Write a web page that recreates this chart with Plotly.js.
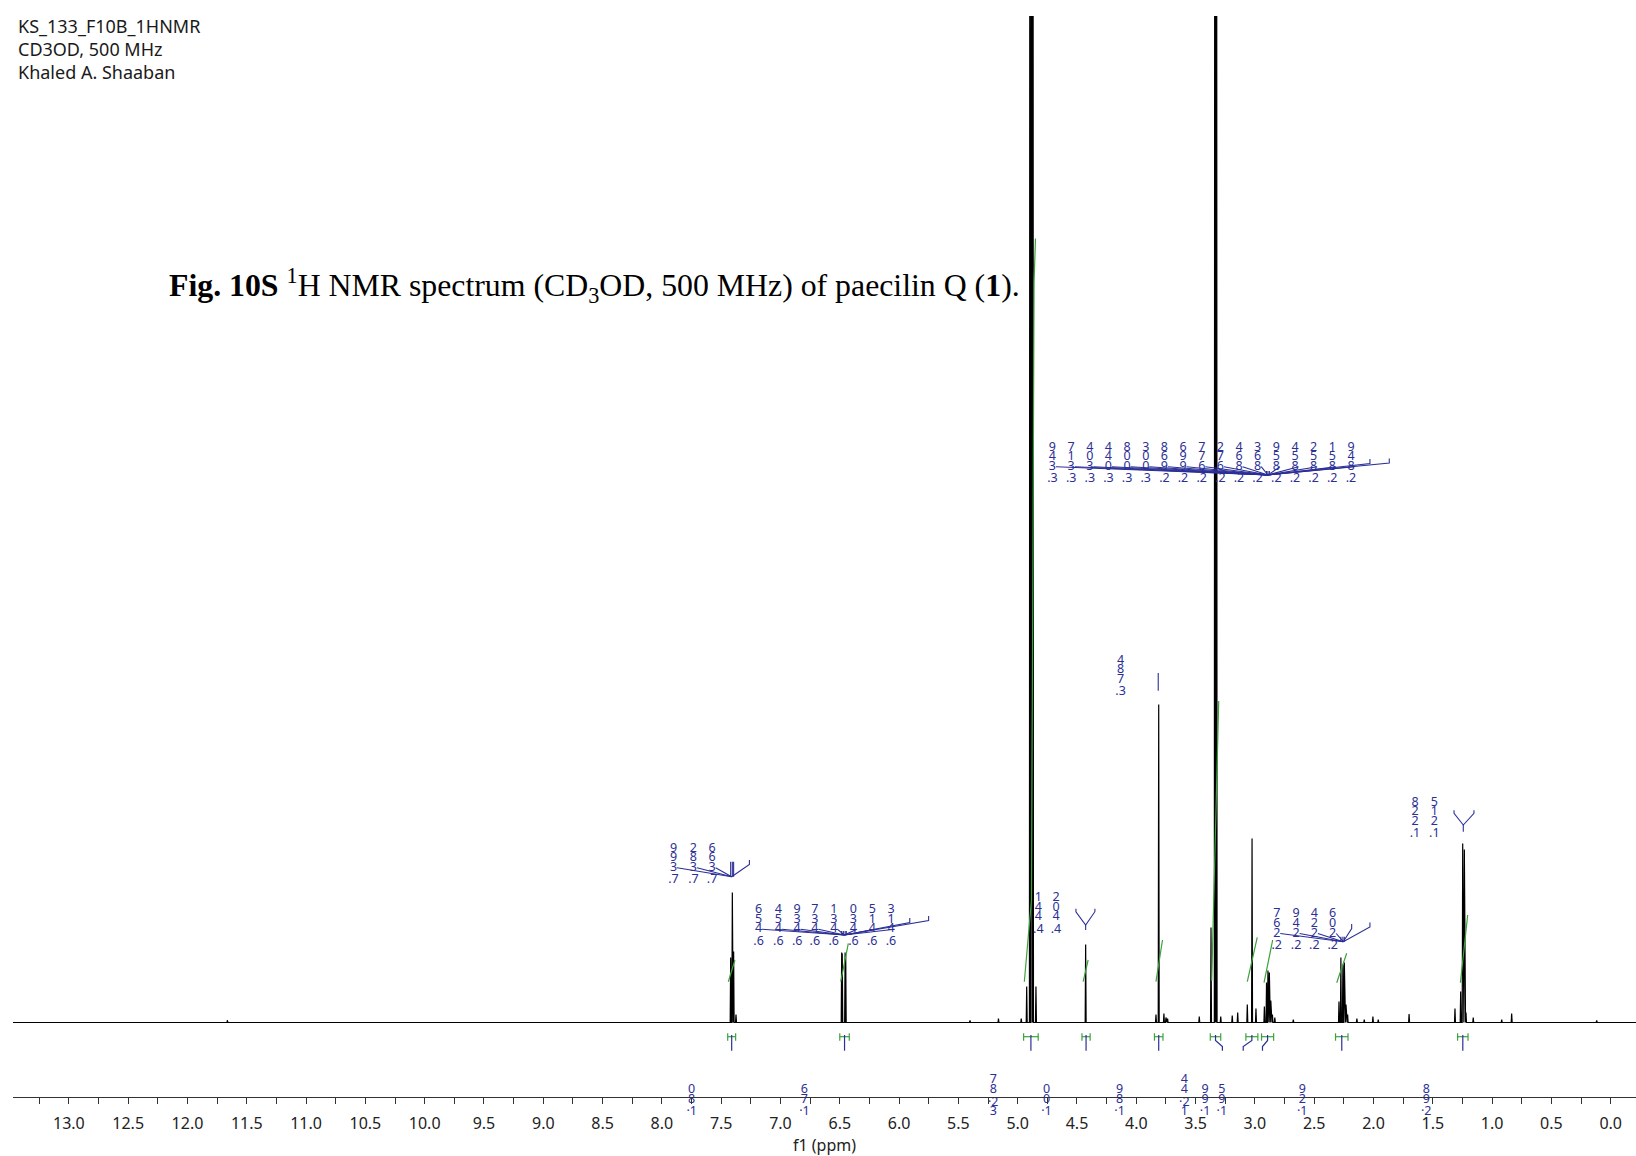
<!DOCTYPE html>
<html><head><meta charset="utf-8">
<script src="https://cdn.plot.ly/plotly-3.0.1.min.js"></script>
<style>html,body{margin:0;padding:0;background:#fff}#chart{width:1636px;height:1156px}</style>
</head><body><div id="chart"></div>
<script>
// ---------------- DATA ----------------
// peak positions (ppm) and heights (arbitrary intensity units)
const peakPpm = [11.663, 7.420, 7.406, 7.395, 7.375, 6.484, 6.479, 6.455, 6.450, 5.402, 5.162, 4.970, 4.924, 4.897, 4.884, 4.871, 4.846, 4.427, 3.834, 3.811, 3.767, 3.750, 3.736, 3.469, 3.370, 3.338, 3.330, 3.323, 3.288, 3.191, 3.145, 3.064, 3.024, 2.991, 2.920, 2.902, 2.890, 2.878, 2.866, 2.852, 2.832, 2.676, 2.291, 2.275, 2.258, 2.246, 2.232, 2.218, 2.140, 2.078, 2.005, 1.960, 1.700, 1.313, 1.265, 1.248, 1.234, 1.220, 1.159, 0.919, 0.835, 0.118];
const peakInt = [2.5, 65, 130, 71, 8, 70, 69, 70, 68, 2, 4, 4, 36, 1500, 1500, 1500, 36, 78, 8, 318, 9, 5, 4, 6, 95, 1500, 1500, 1500, 6, 7, 10, 18, 184, 14, 16, 40, 52, 50, 22, 8, 5, 3, 21, 65, 58, 60, 18, 8, 4, 3, 6, 3, 8.5, 14, 31, 179, 173, 10, 5, 3, 9, 2];

// integration regions (ppm), integral values and integral curves
const intFrom = [7.445, 6.500, 4.950, 4.458, 3.847, 3.376, 3.076, 2.944, 2.320, 1.291];
const intTo   = [7.378, 6.420, 4.827, 4.389, 3.775, 3.288, 2.975, 2.842, 2.215, 1.203];
const intValues = ["1.80", "1.76", "32.87", "1.00", "1.89", "12.44", "1.99", "1.95", "1.29", "2.98"];
const curveX = [[7.440, 7.384], [6.492, 6.428], [4.944, 4.884, 4.872, 4.862, 4.850], [4.448, 4.406], [3.834, 3.779], [3.364, 3.305], [3.064, 2.980], [2.923, 2.850], [2.310, 2.226], [1.267, 1.206]];
const curveY = [[40.8, 62.5], [40.8, 79.2], [40.8, 122, 450, 740, 784], [40.8, 62.5], [40.8, 82.5], [41.7, 321.5], [40.8, 85.2], [39.8, 82.5], [39.8, 69.2], [39.8, 107.5]];

// peak labels (chemical shifts)
const shiftsA = ["7.399", "7.382", "7.366"];
const shiftsB = ["6.456", "6.454", "6.439", "6.437", "6.431", "6.430", "6.415", "6.413"];
const shiftsC = ["4.441", "4.402"];
const shiftsD = ["3.784"];
const shiftsE = ["3.349", "3.317", "3.304", "3.044", "3.008", "3.003", "2.968", "2.996", "2.677", "2.672", "2.864", "2.863", "2.859", "2.854", "2.852", "2.851", "2.849"];
const shiftsF = ["2.267", "2.249", "2.224", "2.206"];
const shiftsG = ["1.228", "1.215"];

const headerLines = ["KS_133_F10B_1HNMR", "CD3OD, 500 MHz", "Khaled A. Shaaban"];
const captionText = "<b>Fig. 10S</b> <sup>1</sup>H NMR spectrum (CD<sub>3</sub>OD, 500 MHz) of paecilin Q (<b>1</b>).";

// ---------------- LAYOUT / STYLE ----------------
const NAVY = '#2b2f96', GREEN = '#3ca23c', BLACK = '#000';
const W = 0.004; // half-width of a drawn line (ppm)
const LBL = 12.5; // label font size

// spectrum trace
const sx = [13.471], sy = [0];
peakPpm.forEach((p, i) => { sx.push(p + W, p, p - W); sy.push(0, peakInt[i], 0); });
sx.push(-0.2133); sy.push(0);

// stacked label helpers
function rowsOf(v, dot) {
  const c = v.split('').reverse(), rows = [];
  for (let i = 0; i < c.length; i++) {
    if (c[i] === '.') { rows.push(dot + c[i + 1]); i++; } else rows.push(c[i]);
  }
  return rows;
}
function offsetsOf(rows) {
  let off = 0; return rows.map((r, k) => { if (k > 0) off += 9.6; if (r.length > 1) off += 3; return off; });
}
const tx = [], ty = [], tt = [];
const lx = [], ly = [];
function seg(pts) { pts.forEach(p => { lx.push(p[0]); ly.push(p[1]); }); lx.push(null); ly.push(null); }

function labelGroup(vals, xs, topI, conv, ticks, tickH, brackets) {
  vals.forEach((v, i) => {
    const rows = rowsOf(v, '.'), offs = offsetsOf(rows);
    rows.forEach((r, k) => { tx.push(xs[i]); ty.push(topI - offs[k]); tt.push(r); });
    if (conv) seg([[xs[i] - 0.03, topI - offs[2]], conv]);
  });
  if (ticks) ticks.forEach(t => seg([[t, conv[1]], [t, conv[1] + tickH]]));
  if (brackets) brackets.forEach(b => seg([conv, [b[0], b[1]], [b[0], b[1] + 4.5]]));
}
labelGroup(shiftsA, [7.902, 7.734, 7.577], 174, [7.412, 145.8], [7.420, 7.406, 7.395], 15, [[7.262, 158]]);
labelGroup(shiftsB, [7.185, 7.018, 6.859, 6.710, 6.551, 6.385, 6.226, 6.068], 112.5, [6.462, 87.5], [6.484, 6.470, 6.455, 6.445], 4, [[5.910, 100], [5.751, 102]]);
labelGroup(shiftsC, [4.826, 4.677], 124.5, null);
labelGroup(shiftsD, [4.132], 362, null);
labelGroup(shiftsE, [4.707, 4.549, 4.392, 4.235, 4.078, 3.920, 3.763, 3.606, 3.448, 3.291, 3.134, 2.977, 2.819, 2.662, 2.505, 2.348, 2.190], 575, [2.890, 547.5], [2.902, 2.890, 2.878], 4, [[2.030, 559], [1.867, 559.5]]);
labelGroup(shiftsF, [2.816, 2.653, 2.499, 2.344], 108.2, [2.255, 80.8], [2.275, 2.258, 2.246], 5, [[2.184, 94], [2.030, 95.5]]);
labelGroup(shiftsG, [1.650, 1.487], 220, null);
// Y-shaped multiplet brackets
function yShape(l, r, c, tipI, cI, stemI) { seg([[l, tipI + 3], [l, tipI], [c, cI], [r, tipI], [r, tipI + 3]]); seg([[c, cI], [c, stemI]]); }
yShape(4.509, 4.349, 4.427, 110.8, 97.5, 92.5);
yShape(1.321, 1.153, 1.243, 209.2, 197.5, 190.8);
seg([[3.815, 331.8], [3.815, 349.5]]);

// integral labels under the regions
const intLabelPpm = [7.749, 6.798, 5.206, 4.757, 4.141, 3.595, 3.420, 3.279, 2.601, 1.555];
intValues.forEach((v, i) => {
  const rows = rowsOf(v, '·'), offs = offsetsOf(rows), last = offs[offs.length - 1];
  rows.forEach((r, k) => { tx.push(intLabelPpm[i]); ty.push(-89.6 - (offs[k] - last)); tt.push(r); });
});

// integration marks (green H) and blue stems
const hx = [], hy = [], bx = [], by = [];
const stemShift = [0, 0, 0, 0, 0, -0.058, 0.073, 0.043, 0, 0];
intFrom.forEach((f, i) => {
  const t = intTo[i], c = (f + t) / 2;
  hx.push(f, t, null, f, f, null, t, t, null); hy.push(-14.2, -14.2, null, -10.8, -18.2, null, -10.8, -18.2, null);
  const s = stemShift[i];
  if (s === 0) { bx.push(c, c, null); by.push(-12.5, -28.2, null); }
  else { bx.push(c, c, c + s, c + s, null); by.push(-12.5, -18, -24, -28.2, null); }
});
// integral curves
const gx = [], gy = [];
curveX.forEach((xs, i) => { xs.forEach((x, k) => { gx.push(x); gy.push(curveY[i][k]); }); gx.push(null); gy.push(null); });

const traces = [
  {x: sx, y: sy, type: 'scatter', mode: 'lines', line: {color: BLACK, width: 1.2}, hoverinfo: 'skip'},
  {x: gx, y: gy, type: 'scatter', mode: 'lines', line: {color: GREEN, width: 1.2}, hoverinfo: 'skip'},
  {x: hx, y: hy, type: 'scatter', mode: 'lines', line: {color: GREEN, width: 1.2}, hoverinfo: 'skip'},
  {x: bx, y: by, type: 'scatter', mode: 'lines', line: {color: NAVY, width: 1.2}, hoverinfo: 'skip'},
  {x: lx, y: ly, type: 'scatter', mode: 'lines', line: {color: NAVY, width: 1.1}, hoverinfo: 'skip'},
  {x: tx, y: ty, text: tt, type: 'scatter', mode: 'text', textposition: 'middle center', cliponaxis: false,
   textfont: {family: 'Noto Sans', size: LBL, color: NAVY}, hoverinfo: 'skip'}
];

// plot area spans y = 16 .. 1130 px; the x axis line sits at y = 1097 px
const annotations = headerLines.map((t, i) => ({
  text: t, xref: 'paper', yref: 'paper', x: 0.00185, y: [0.99102, 0.97038, 0.94973][i], xanchor: 'left', yanchor: 'middle',
  showarrow: false, font: {family: 'Noto Sans', size: 18, color: '#1a1a1a'}
}));
annotations.push({text: captionText, xref: 'paper', yref: 'paper', x: 0.0949, y: 0.7585, xanchor: 'left', yanchor: 'middle',
  showarrow: false, font: {family: 'Liberation Serif', size: 31.8, color: '#000'}});

const layout = {
  width: 1636, height: 1156, margin: {l: 13, r: 0, t: 16, b: 26},
  paper_bgcolor: '#fff', plot_bgcolor: '#fff', showlegend: false,
  xaxis: {range: [13.471, -0.2133], autorange: false, anchor: 'free', position: 0.02962,
    tick0: 0, dtick: 0.5, tickformat: '.1f',
    ticks: 'outside', ticklen: 6, tickwidth: 1, tickcolor: '#333', showline: true, linecolor: '#333', linewidth: 1,
    showgrid: false, zeroline: false, ticklabelstandoff: 6,
    tickfont: {family: 'Noto Sans', size: 16, color: '#222'},
    minor: {dtick: 0.25, ticks: 'outside', ticklen: 6, tickcolor: '#333', showgrid: false},
    title: {text: 'f1 (ppm)', font: {family: 'Noto Sans', size: 16, color: '#222'}, standoff: 0}},
  yaxis: {range: [-107.5, 1006.5], autorange: false, visible: false, fixedrange: true},
  annotations: annotations
};
Plotly.newPlot('chart', traces, layout, {staticPlot: true});
</script></body></html>
